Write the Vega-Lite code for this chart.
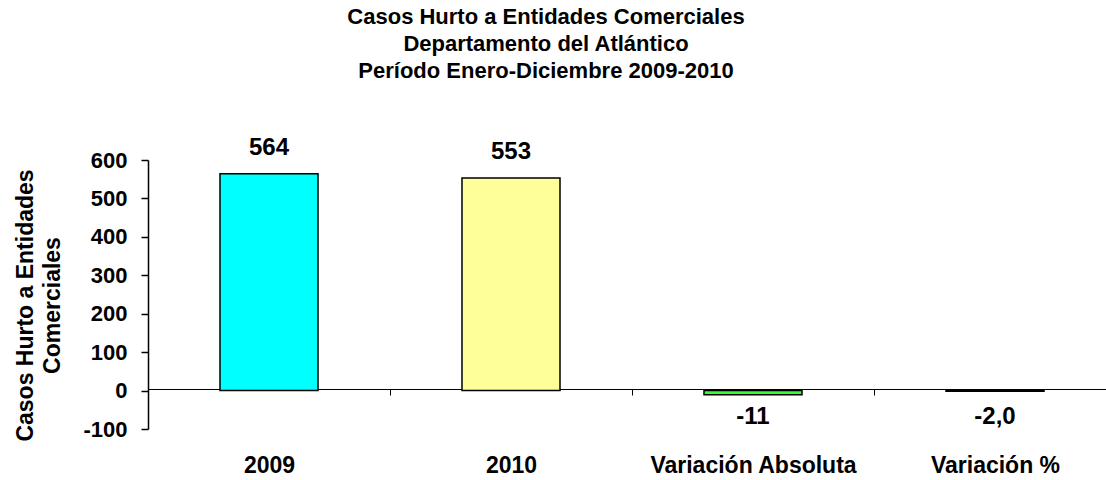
{
  "$schema": "https://vega.github.io/schema/vega-lite/v6.json",
  "autosize": "none",
  "width": 968,
  "height": 269,
  "padding": {"left": 148, "top": 160, "right": 0, "bottom": 51},
  "background": "white",
  "title": {
    "text": ["Casos Hurto a Entidades Comerciales", "Departamento del Atlántico", "Período Enero-Diciembre 2009-2010"],
    "font": "Liberation Sans",
    "fontSize": 22,
    "fontWeight": "bold",
    "lineHeight": 27,
    "color": "black",
    "anchor": "middle",
    "frame": "group",
    "dx": -86,
    "offset": 53
  },
  "data": {
    "values": [
      {"categoria": "2009", "valor": 564, "etiqueta": "564"},
      {"categoria": "2010", "valor": 553, "etiqueta": "553"},
      {"categoria": "Variación Absoluta", "valor": -11, "etiqueta": "-11"},
      {"categoria": "Variación %", "valor": -2.0, "etiqueta": "-2,0"}
    ]
  },
  "config": {
    "view": {"stroke": null},
    "axis": {"grid": false, "domainColor": "black", "tickColor": "black", "labelColor": "black", "titleColor": "black", "labelFont": "Liberation Sans", "titleFont": "Liberation Sans", "labelFontWeight": "bold", "titleFontWeight": "bold"},
    "axisY": {"labelOverlap": false}
  },
  "encoding": {
    "x": {
      "field": "categoria",
      "type": "nominal",
      "sort": null,
      "scale": {"paddingInner": 0, "paddingOuter": 0},
      "axis": {
        "title": null,
        "labelAngle": 0,
        "labelFontSize": 23,
        "labelLimit": 0,
        "labelOverlap": false,
        "tickBand": "extent",
        "tickSize": 6,
        "domainWidth": 1.2,
        "offset": -40,
        "labelPadding": 59
      }
    }
  },
  "layer": [
    {
      "mark": {"type": "bar", "width": {"band": 0.405}, "stroke": "black", "strokeWidth": 1.5},
      "encoding": {
        "y": {
          "field": "valor",
          "type": "quantitative",
          "scale": {"domain": [-100, 600], "nice": false, "zero": true},
          "axis": {
            "values": [-100, 0, 100, 200, 300, 400, 500, 600],
            "tickCount": 20,
            "labelExpr": "datum.value < 0 ? '-' + abs(datum.value) : '' + datum.value",
            "labelOverlap": false,
            "title": ["Casos Hurto a Entidades", "Comerciales"],
            "titleFontSize": 23,
            "titleLineHeight": 27,
            "titleY": 145,
            "labelFontSize": 22,
            "tickSize": 7,
            "labelPadding": 14,
            "domainWidth": 1.5,
            "tickWidth": 1.5,
            "titlePadding": 18
          }
        },
        "color": {
          "field": "categoria",
          "type": "nominal",
          "sort": null,
          "scale": {"domain": ["2009", "2010", "Variación Absoluta", "Variación %"], "range": ["#00FFFF", "#FFFF99", "#33FF33", "#000000"]},
          "legend": null
        }
      }
    },
    {
      "transform": [{"filter": "datum.valor > 0"}],
      "mark": {"type": "text", "baseline": "bottom", "dy": -14, "font": "Liberation Sans", "fontSize": 24, "fontWeight": "bold", "color": "black"},
      "encoding": {
        "y": {"field": "valor", "type": "quantitative"},
        "text": {"field": "etiqueta"}
      }
    },
    {
      "transform": [{"filter": "datum.valor < 0"}],
      "mark": {"type": "text", "baseline": "middle", "font": "Liberation Sans", "fontSize": 24, "fontWeight": "bold", "color": "black"},
      "encoding": {
        "y": {"datum": -70, "type": "quantitative"},
        "text": {"field": "etiqueta"}
      }
    }
  ]
}
